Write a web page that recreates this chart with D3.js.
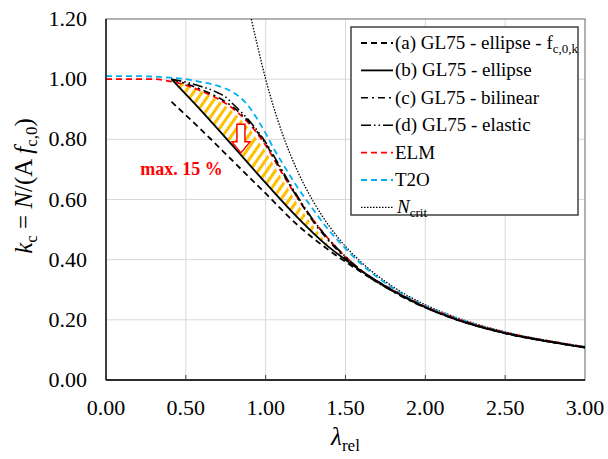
<!DOCTYPE html>
<html>
<head><meta charset="utf-8"></head>
<body style="margin:0;background:white">

<style>
    .grid line { stroke: #d9d9d9; stroke-width: 1; }
</style>

<svg id="view" width="608" height="459"></svg>

<script src="https://cdnjs.cloudflare.com/ajax/libs/d3/7.8.5/d3.min.js"></script>
<script>
    const xTicks = [0, 0.5, 1.0, 1.5, 2.0, 2.5, 3.0];
    const yTicks = [0, 0.2, 0.4, 0.6, 0.8, 1.0, 1.2];

    // (a) GL75 - ellipse - fc,0,k
    const lamA = [0.41, 0.6, 0.8, 1.0, 1.2, 1.4, 1.5, 1.6, 1.8, 2.0, 2.2, 2.5, 2.8, 3.0];
    const kA   = [0.925, 0.83, 0.725, 0.62, 0.515, 0.43, 0.393, 0.358, 0.294, 0.241, 0.2, 0.155, 0.125, 0.108];
    // (b) GL75 - ellipse
    const lamB = [0.41, 0.6, 0.8, 1.0, 1.2, 1.4, 1.5, 1.6, 1.8, 2.0, 2.2, 2.5, 2.8, 3.0];
    const kB   = [1.0, 0.893, 0.775, 0.655, 0.54, 0.44, 0.4, 0.362, 0.296, 0.242, 0.2, 0.156, 0.125, 0.108];
    // (c) GL75 - bilinear
    const lamC = [0.41, 0.5, 0.6, 0.7, 0.8, 0.9, 1.0, 1.1, 1.2, 1.3, 1.4, 1.5, 1.6, 1.8, 2.0, 2.2, 2.5, 2.8, 3.0];
    const kC   = [1.0, 0.985, 0.965, 0.94, 0.905, 0.855, 0.785, 0.695, 0.605, 0.525, 0.46, 0.405, 0.36, 0.293, 0.24, 0.2, 0.155, 0.125, 0.108];
    // (d) GL75 - elastic
    const lamD = [0.41, 0.5, 0.6, 0.7, 0.75, 0.8, 0.9, 1.0, 1.1, 1.2, 1.3, 1.4, 1.5, 1.6, 1.8, 2.0, 2.2, 2.5, 2.8, 3.0];
    const kD   = [1.0, 0.99, 0.975, 0.955, 0.94, 0.915, 0.86, 0.79, 0.7, 0.61, 0.53, 0.465, 0.41, 0.363, 0.296, 0.242, 0.201, 0.156, 0.126, 0.108];
    // ELM
    const lamE = [0, 0.3, 0.4, 0.5, 0.6, 0.7, 0.8, 0.9, 1.0, 1.1, 1.2, 1.3, 1.4, 1.5, 1.6, 1.8, 2.0, 2.2, 2.5, 2.8, 3.0];
    const kE   = [1.0, 1.0, 0.993, 0.98, 0.96, 0.935, 0.9, 0.85, 0.78, 0.69, 0.605, 0.53, 0.465, 0.41, 0.364, 0.298, 0.244, 0.203, 0.158, 0.127, 0.11];
    // T2O
    const lamT = [0, 0.2, 0.4, 0.5, 0.6, 0.7, 0.8, 0.85, 0.9, 0.95, 1.0, 1.05, 1.1, 1.2, 1.3, 1.4, 1.5, 1.6, 1.8, 2.0, 2.2, 2.5, 2.8, 3.0];
    const kT   = [1.01, 1.01, 1.005, 1.0, 0.99, 0.978, 0.955, 0.935, 0.905, 0.865, 0.82, 0.77, 0.725, 0.64, 0.565, 0.495, 0.437, 0.385, 0.304, 0.247, 0.205, 0.158, 0.127, 0.11];
    // N_crit
    const lamN = [0.91, 0.95, 1.0, 1.05, 1.1, 1.2, 1.3, 1.4, 1.5, 1.6, 1.8, 2.0, 2.2, 2.5, 2.8, 3.0];
    const kN   = [1.2, 1.108, 1.0, 0.907, 0.826, 0.694, 0.592, 0.51, 0.444, 0.391, 0.309, 0.25, 0.207, 0.16, 0.128, 0.111];
    // upper edge of the hatched band (lower edge is curve b)
    const lamH = [0.41, 0.5, 0.6, 0.7, 0.8, 0.9, 1.0, 1.1, 1.2, 1.3, 1.4, 1.5];
    const kH   = [1.0, 0.985, 0.96, 0.93, 0.89, 0.835, 0.76, 0.67, 0.585, 0.51, 0.445, 0.4];

    // annotation
    const arrowLam = 0.845, arrowTop = 0.85, arrowTip = 0.755;
    const noteLam = 0.215, noteK = 0.682, noteText = 'max. 15 %';

    const FONT = '"Liberation Serif", Tinos, "Times New Roman"';

    const svg = d3.select('#view');
    const pLeft = 106, pRight = 585, pTop = 19, pBottom = 380;

    const x = d3.scaleLinear().domain([0, 3]).range([pLeft, pRight]);
    const y = d3.scaleLinear().domain([0, 1.2]).range([pBottom, pTop]);

    // helper: text with the serif font set inline
    function addText(parent) {
        return parent.append('text').style('font-family', FONT).style('fill', 'black');
    }

    // grid
    const grid = svg.append('g').attr('class', 'grid');
    grid.selectAll('.gx').data(xTicks.slice(1, -1)).enter().append('line')
        .attr('x1', d => x(d)).attr('x2', d => x(d)).attr('y1', pTop).attr('y2', pBottom);
    grid.selectAll('.gy').data(yTicks.slice(1, -1)).enter().append('line')
        .attr('x1', pLeft).attr('x2', pRight).attr('y1', d => y(d)).attr('y2', d => y(d));

    // frame
    svg.append('rect').attr('x', pLeft).attr('y', pTop).attr('width', pRight - pLeft).attr('height', pBottom - pTop)
        .attr('fill', 'none').attr('stroke', '#7f7f7f').attr('stroke-width', 1.2);

    // hatch pattern
    const defs = svg.append('defs');
    const pat = defs.append('pattern').attr('id', 'hatch').attr('patternUnits', 'userSpaceOnUse')
        .attr('width', 7).attr('height', 7).attr('patternTransform', 'rotate(35)');
    pat.append('rect').attr('x', 0).attr('y', 0).attr('width', 3).attr('height', 7).attr('fill', '#ffc000');
    defs.append('clipPath').attr('id', 'plotclip').append('rect')
        .attr('x', pLeft).attr('y', pTop).attr('width', pRight - pLeft).attr('height', pBottom - pTop);

    const pts = (ls, ks) => ls.map((l, i) => [l, ks[i]]);
    const band = pts(lamH, kH).concat(pts(lamB, kB).filter(p => p[0] <= 1.5).reverse());
    svg.append('path')
        .attr('d', d3.line().x(d => x(d[0])).y(d => y(d[1]))(band) + 'Z')
        .attr('fill', 'url(#hatch)');

    const series = [
        {lam: lamA, k: kA, color: 'black', w: 1.8, dash: '6,4', label: '(a) GL75 - ellipse - f', sub: 'c,0,k'},
        {lam: lamB, k: kB, color: 'black', w: 1.8, dash: null, label: '(b) GL75 - ellipse'},
        {lam: lamC, k: kC, color: 'black', w: 1.6, dash: '7,4,2,4', label: '(c) GL75 - bilinear'},
        {lam: lamD, k: kD, color: 'black', w: 1.6, dash: '10,3,1.5,3,1.5,3', label: '(d) GL75 - elastic'},
        {lam: lamE, k: kE, color: '#ff0000', w: 1.8, dash: '6,4', label: 'ELM'},
        {lam: lamT, k: kT, color: '#00b0f0', w: 1.8, dash: '6,4', label: 'T2O'},
        {lam: lamN, k: kN, color: 'black', w: 1.3, dash: '1.5,1.5', label: 'N', sub: 'crit', italic: true}
    ];

    const line = d3.line().x(d => x(d[0])).y(d => y(d[1])).curve(d3.curveMonotoneX);
    const plot = svg.append('g').attr('clip-path', 'url(#plotclip)');
    // draw order: Ncrit, T2O, ELM, then the GL75 curves on top
    [6, 5, 4, 0, 1, 2, 3].forEach(i => {
        const s = series[i];
        plot.append('path')
            .attr('d', line(pts(s.lam, s.k)))
            .attr('fill', 'none')
            .attr('stroke', s.color)
            .attr('stroke-width', s.w)
            .attr('stroke-dasharray', s.dash);
    });

    // arrow
    const ax = x(arrowLam), aT = y(arrowTop), aP = y(arrowTip);
    const hw = 4, hh = 9, hl = 11;
    svg.append('path')
        .attr('d', `M${ax - hw},${aT}L${ax + hw},${aT}L${ax + hw},${aP - hl}L${ax + hh},${aP - hl}L${ax},${aP}L${ax - hh},${aP - hl}L${ax - hw},${aP - hl}Z`)
        .attr('fill', 'white').attr('stroke', '#ff0000').attr('stroke-width', 1.5);

    addText(svg).attr('x', x(noteLam)).attr('y', y(noteK))
        .attr('font-size', 18).attr('font-weight', 'bold').style('fill', '#ff0000')
        .text(noteText);

    // axes
    svg.append('line').attr('x1', pLeft).attr('x2', pLeft).attr('y1', pTop).attr('y2', pBottom)
        .attr('stroke', 'black').attr('stroke-width', 1.3);
    svg.append('line').attr('x1', pLeft).attr('x2', pRight).attr('y1', pBottom).attr('y2', pBottom)
        .attr('stroke', 'black').attr('stroke-width', 1.3);
    svg.selectAll('.xt').data(xTicks.slice(1, -1)).enter().append('line')
        .attr('x1', d => x(d)).attr('x2', d => x(d)).attr('y1', pBottom).attr('y2', pBottom - 5)
        .attr('stroke', '#404040').attr('stroke-width', 1);

    xTicks.forEach(d => {
        addText(svg).attr('x', x(d)).attr('y', 415).attr('text-anchor', 'middle').attr('font-size', 22)
            .text(d3.format('.2f')(d));
    });
    yTicks.forEach(d => {
        addText(svg).attr('x', 87).attr('y', y(d) + 7).attr('text-anchor', 'end').attr('font-size', 22)
            .text(d3.format('.2f')(d));
    });

    // axis titles
    const xt = addText(svg).attr('x', (pLeft + pRight) / 2).attr('y', 445).attr('text-anchor', 'middle').attr('font-size', 25);
    xt.append('tspan').attr('font-style', 'italic').text('λ');
    xt.append('tspan').attr('font-size', 17).attr('dy', 6).text('rel');

    const yt = addText(svg).attr('transform', 'translate(32,186) rotate(-90)').attr('text-anchor', 'middle').attr('font-size', 25);
    yt.append('tspan').attr('font-style', 'italic').text('k');
    yt.append('tspan').attr('font-size', 17).attr('dy', 5).text('c');
    yt.append('tspan').attr('dy', -5).text(' = ');
    yt.append('tspan').attr('font-style', 'italic').text('N');
    yt.append('tspan').text('/(A ');
    yt.append('tspan').attr('font-style', 'italic').text('f');
    yt.append('tspan').attr('font-size', 17).attr('dy', 5).text('c,0');
    yt.append('tspan').attr('dy', -5).text(')');

    // legend
    const lg = svg.append('g');
    lg.append('rect').attr('x', 351).attr('y', 27).attr('width', 227).attr('height', 188)
        .attr('fill', 'white').attr('stroke', '#404040').attr('stroke-width', 1.5);
    series.forEach((s, i) => {
        const cy = 43 + i * 27.4;
        lg.append('line').attr('x1', 361).attr('x2', 393).attr('y1', cy).attr('y2', cy)
            .attr('stroke', s.color).attr('stroke-width', s.w).attr('stroke-dasharray', s.dash);
        const t = addText(lg).attr('x', s.italic ? 397 : 395).attr('y', cy + 6).attr('font-size', 19);
        t.append('tspan').attr('font-style', s.italic ? 'italic' : null).text(s.label);
        if (s.sub) t.append('tspan').attr('font-size', 13).attr('dy', 4).text(s.sub);
    });
</script>

</body>
</html>
